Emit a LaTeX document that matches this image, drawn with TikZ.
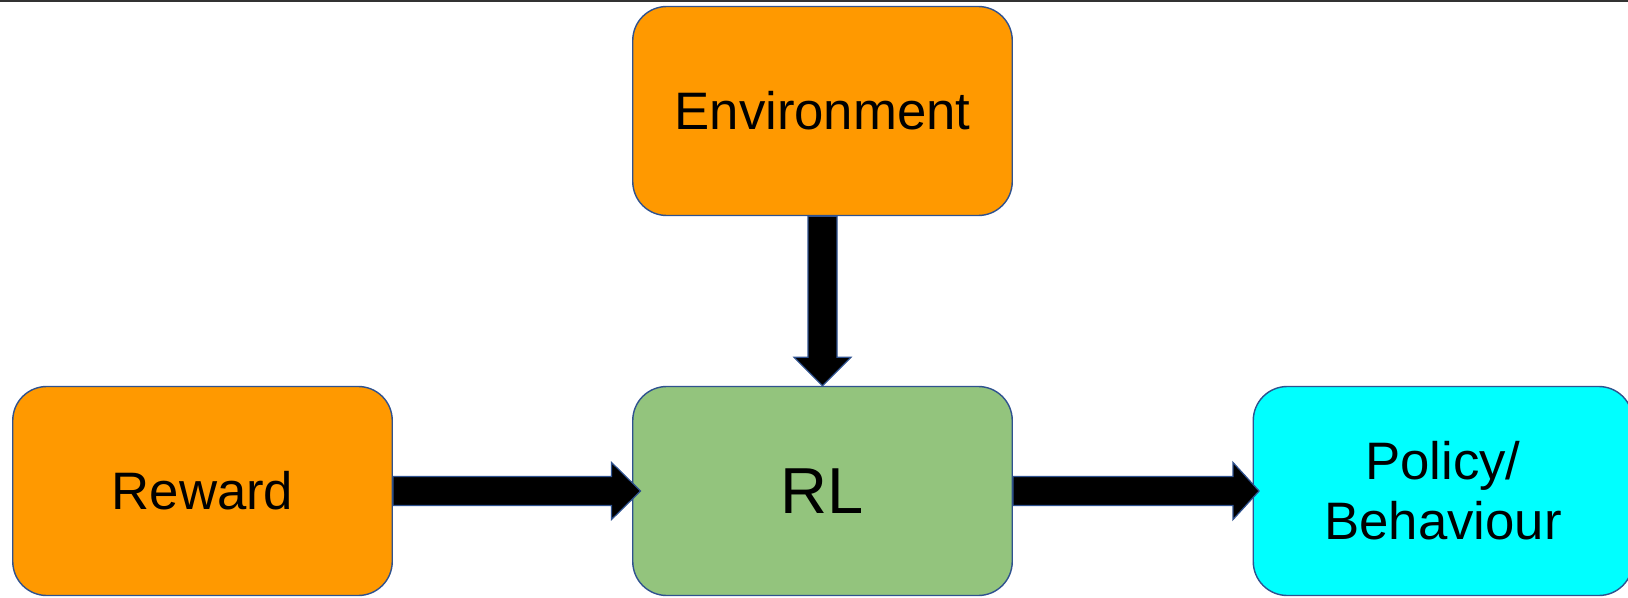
\documentclass[tikz,border=0pt]{standalone}
\usepackage{fontspec}
\setmainfont{Liberation Sans}
\usetikzlibrary{calc}

\definecolor{boxorange}{RGB}{255,153,0}
\definecolor{boxgreen}{RGB}{147,196,125}
\definecolor{boxcyan}{RGB}{0,255,255}
\definecolor{boxline}{RGB}{47,82,143}

\tikzset{
  block/.style={draw=boxline, line width=0.8pt, rounded corners=0.68cm,
    minimum width=7.59cm, minimum height=4.18cm, align=center, inner sep=0pt},
  bigarrow/.style={fill=black, draw=boxline, line width=0.7pt, line join=miter}
}

\begin{document}
\begin{tikzpicture}
  \useasboundingbox (0,0) rectangle (32.56,11.94);
  \fill[black!80] (0,11.905) rectangle (32.56,11.94);

  \node[block, fill=boxorange, font=\fontsize{30}{34}\selectfont] (env) at (16.45,9.72) {Environment};
  \node[block, fill=boxgreen, font=\fontsize{37}{42}\selectfont] (rl) at (16.45,2.12) {RL};
  \node[block, fill=boxorange, font=\fontsize{30}{34}\selectfont] (reward) at (4.05,2.12) {Reward};
  \node[block, fill=boxcyan, font=\fontsize{30}{34}\selectfont] (policy) at (28.86,2.12) {Policy/\\Behaviour};

  % block arrows, shaft 0.58cm and head 1.14cm wide
  \filldraw[bigarrow] ($(env.south)+(-0.29,0)$) -- ($(rl.north)+(-0.29,0.57)$) -- ($(rl.north)+(-0.57,0.57)$)
    -- (rl.north) -- ($(rl.north)+(0.57,0.57)$) -- ($(rl.north)+(0.29,0.57)$) -- ($(env.south)+(0.29,0)$) -- cycle;
  \filldraw[bigarrow] ($(reward.east)+(0,0.29)$) -- ($(rl.west)+(-0.41,0.29)$) -- ($(rl.west)+(-0.41,0.57)$)
    -- ($(rl.west)+(0.17,0)$) -- ($(rl.west)+(-0.41,-0.57)$) -- ($(rl.west)+(-0.41,-0.29)$) -- ($(reward.east)+(0,-0.29)$) -- cycle;
  \filldraw[bigarrow] ($(rl.east)+(0,0.29)$) -- ($(policy.west)+(-0.39,0.29)$) -- ($(policy.west)+(-0.39,0.57)$)
    -- ($(policy.west)+(0.13,0)$) -- ($(policy.west)+(-0.39,-0.57)$) -- ($(policy.west)+(-0.39,-0.29)$) -- ($(rl.east)+(0,-0.29)$) -- cycle;
\end{tikzpicture}
\end{document}
